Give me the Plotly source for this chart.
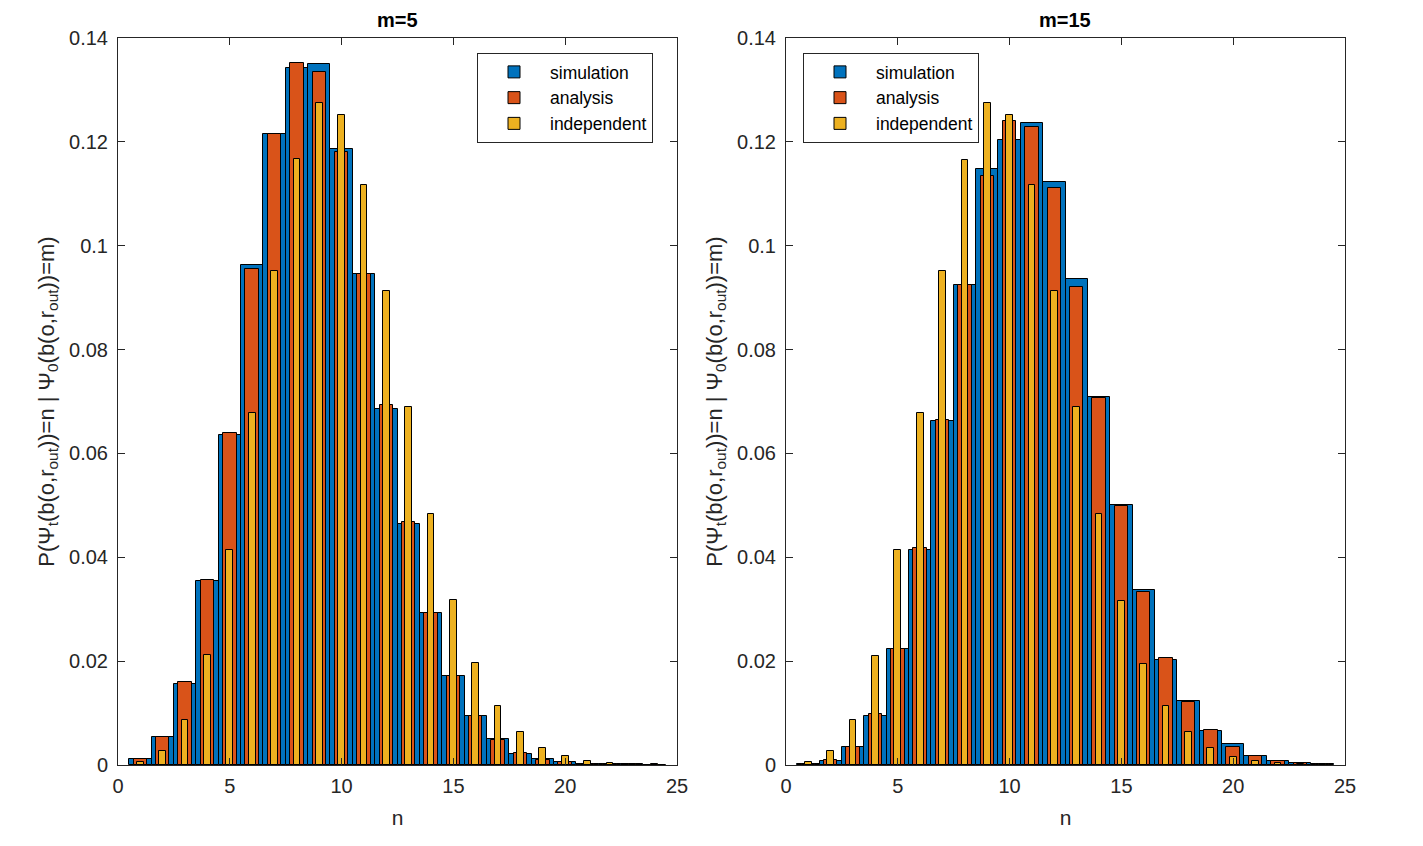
import plotly.graph_objects as go

# ---- data ----
n_vals = list(range(1, 25))

left_simulation = [0.0011, 0.0053, 0.0156, 0.0354, 0.0635, 0.0962, 0.1216, 0.1342, 0.1350, 0.1186,
                   0.0945, 0.0686, 0.0464, 0.0292, 0.0172, 0.0095, 0.0051, 0.0022, 0.0011, 0.0006,
                   0.0002, 0.0001, 0.0001, 0.0000]
left_analysis = [0.0011, 0.0053, 0.0159, 0.0357, 0.0640, 0.0956, 0.1216, 0.1352, 0.1334, 0.1180,
                 0.0945, 0.0694, 0.0468, 0.0293, 0.0172, 0.0095, 0.0049, 0.0023, 0.0010, 0.0005,
                 0.0002, 0.0001, 0.0000, 0.0000]
left_independent = [0.0006, 0.0027, 0.0086, 0.0211, 0.0414, 0.0677, 0.0951, 0.1167, 0.1274, 0.1252,
                    0.1116, 0.0913, 0.0690, 0.0483, 0.0317, 0.0196, 0.0114, 0.0063, 0.0033, 0.0017,
                    0.0008, 0.0004, 0.0002, 0.0001]

right_simulation = [0.0001, 0.0008, 0.0034, 0.0094, 0.0224, 0.0415, 0.0663, 0.0925, 0.1147, 0.1204,
                    0.1236, 0.1123, 0.0935, 0.0709, 0.0501, 0.0337, 0.0202, 0.0124, 0.0066, 0.0040,
                    0.0018, 0.0007, 0.0004, 0.0002]
right_analysis = [0.0001, 0.0009, 0.0034, 0.0098, 0.0224, 0.0418, 0.0665, 0.0925, 0.1134, 0.1241,
                  0.1229, 0.1111, 0.0921, 0.0706, 0.0499, 0.0334, 0.0207, 0.0122, 0.0067, 0.0035,
                  0.0018, 0.0008, 0.0003, 0.0002]
right_independent = [0.0006, 0.0027, 0.0086, 0.0210, 0.0414, 0.0677, 0.0951, 0.1166, 0.1274, 0.1251,
                     0.1116, 0.0913, 0.0689, 0.0483, 0.0316, 0.0195, 0.0113, 0.0063, 0.0033, 0.0016,
                     0.0008, 0.0004, 0.0002, 0.0001]

series_names = ["simulation", "analysis", "independent"]
titles = ["m=5", "m=15"]
x_ticks = [0, 5, 10, 15, 20, 25]
y_ticks = [0, 0.02, 0.04, 0.06, 0.08, 0.1, 0.12, 0.14]
y_tick_text = ["0", "0.02", "0.04", "0.06", "0.08", "0.1", "0.12", "0.14"]

# ---- style ----
colors = ["#0072BD", "#D95319", "#EDB120"]
widths = [1.0, 0.6, 0.3]
FONT = "Liberation Sans, Arial, sans-serif"
AX = "#262626"
W, H = 1423, 846

fig = go.Figure()

panels = [
    ("x", "y", "legend", [left_simulation, left_analysis, left_independent]),
    ("x2", "y2", "legend2", [right_simulation, right_analysis, right_independent]),
]
for xa, ya, lg, data in panels:
    for name, vals, c, w in zip(series_names, data, colors, widths):
        fig.add_trace(go.Bar(
            x=n_vals, y=vals, name=name, width=w,
            marker=dict(color=c, line=dict(color="#000000", width=1)),
            xaxis=xa, yaxis=ya, legend=lg, showlegend=True,
        ))

ylabel = ("P(Ψ<sub>t</sub>(b(o,r<sub>out</sub>))=n | "
          "Ψ<sub>0</sub>(b(o,r<sub>out</sub>))=m)")

axis_common = dict(
    showline=True, linecolor=AX, linewidth=1, mirror="ticks",
    ticks="inside", ticklen=7, tickcolor=AX, tickwidth=1,
    showgrid=False, zeroline=False, automargin=False,
    tickfont=dict(family=FONT, size=20, color=AX),
)

x_dom = [[118 / W, 677 / W], [786 / W, 1345 / W]]
for i, (xa, ya) in enumerate([("xaxis", "yaxis"), ("xaxis2", "yaxis2")]):
    anchor_y = "y" if i == 0 else "y2"
    anchor_x = "x" if i == 0 else "x2"
    fig.update_layout(**{
        xa: dict(axis_common, domain=x_dom[i], anchor=anchor_y, range=[0, 25],
                 tickvals=x_ticks, ticklabelstandoff=3,
                 title=dict(text="n", font=dict(family=FONT, size=21, color=AX), standoff=14)),
        ya: dict(axis_common, domain=[0, 1], anchor=anchor_x, range=[0, 0.14],
                 tickvals=y_ticks, ticktext=y_tick_text, ticklabelstandoff=5,
                 title=dict(text=ylabel, font=dict(family=FONT, size=22, color=AX), standoff=8)),
    })

for i, t in enumerate(titles):
    cx = (x_dom[i][0] + x_dom[i][1]) / 2
    fig.add_annotation(text="<b>%s</b>" % t, x=cx, xref="paper", y=1.0, yref="paper",
                       yanchor="bottom", xanchor="center", yshift=5, showarrow=False,
                       font=dict(family=FONT, size=20, color="#000000"))

legend_common = dict(
    bgcolor="white", bordercolor=AX, borderwidth=1,
    font=dict(family=FONT, size=17.5, color="#000000"),
    yanchor="top", xanchor="left", traceorder="normal",
    tracegroupgap=0, itemwidth=62,
)
plot_h = H - 38 - 81
fig.update_layout(
    width=W, height=H,
    margin=dict(l=0, r=0, t=38, b=81, autoexpand=False),
    paper_bgcolor="white", plot_bgcolor="white",
    barmode="overlay", bargap=0,
    legend=dict(legend_common, x=477 / W, y=(765 - 53) / plot_h),
    legend2=dict(legend_common, x=803 / W, y=(765 - 53) / plot_h),
)

fig.write_html("out.html")
